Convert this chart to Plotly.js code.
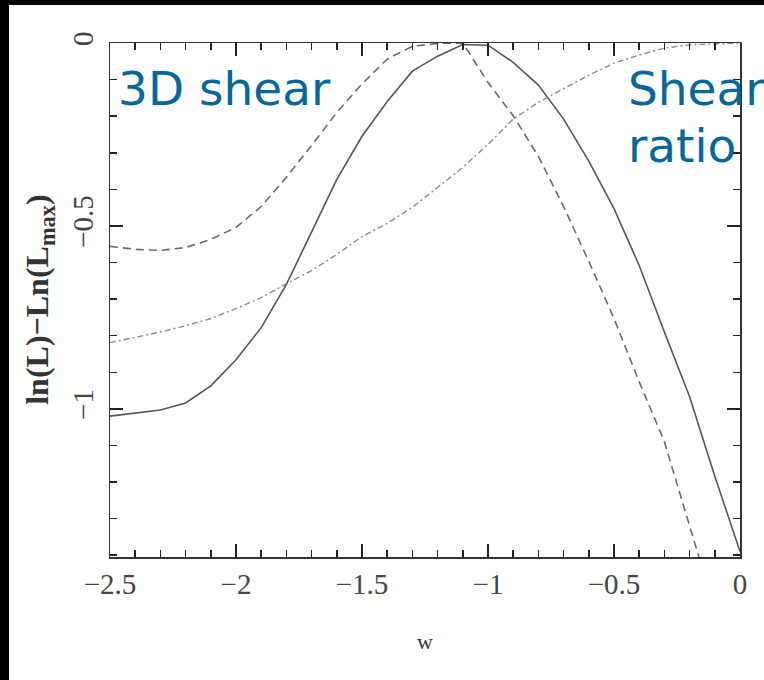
<!DOCTYPE html>
<html>
<head>
<meta charset="utf-8">
<script src="https://cdn.plot.ly/plotly-3.0.1.min.js"></script>
<style>
  html, body { margin: 0; padding: 0; background: #000; width: 764px; height: 680px; overflow: hidden; }
  #chart { position: absolute; left: 9px; top: 5px; width: 755px; height: 675px; background: #fff; }
</style>
</head>
<body>
<div id="chart"></div>
<script>
// w grid
const w = [-2.5,-2.4,-2.3,-2.2,-2.1,-2.0,-1.9,-1.8,-1.7,-1.6,-1.5,-1.4,-1.3,-1.2,-1.1,-1.0,-0.9,-0.8,-0.7,-0.6,-0.5,-0.4,-0.3,-0.2,-0.1,0.0];

// solid curve
const solidCurve = [-1.02,-1.011,-1.003,-0.984,-0.937,-0.866,-0.778,-0.66,-0.515,-0.373,-0.255,-0.16,-0.077,-0.036,-0.004,-0.006,-0.053,-0.115,-0.208,-0.323,-0.453,-0.608,-0.79,-0.967,-1.184,-1.39];

// dashed curve (last point falls below the frame and is clipped)
const dashedW = w.slice(0, 25);
const dashedCurve = [-0.556,-0.564,-0.567,-0.559,-0.537,-0.504,-0.447,-0.367,-0.28,-0.19,-0.112,-0.044,-0.009,-0.001,0.0,-0.108,-0.199,-0.31,-0.447,-0.597,-0.753,-0.926,-1.09,-1.318,-1.55];

// dash-dot curve
const dashDotCurve = [-0.819,-0.805,-0.79,-0.773,-0.753,-0.726,-0.696,-0.658,-0.622,-0.578,-0.529,-0.493,-0.449,-0.395,-0.34,-0.277,-0.208,-0.162,-0.126,-0.088,-0.055,-0.033,-0.014,-0.005,-0.002,0.0];

const xTicks = [-2.5,-2,-1.5,-1,-0.5,0];
const xTickText = ['\u22122.5','\u22122','\u22121.5','\u22121','\u22120.5','0'];
const yTicks = [0,-0.5,-1];
const yTickText = ['0','\u22120.5','\u22121'];

const traces = [
  {x: w, y: solidCurve, mode: 'lines', line: {color: '#555', width: 1.6, dash: 'solid'}, hoverinfo: 'skip'},
  {x: dashedW, y: dashedCurve, mode: 'lines', line: {color: '#6a6a6a', width: 1.6, dash: '8px,5px'}, hoverinfo: 'skip'},
  {x: w, y: dashDotCurve, mode: 'lines', line: {color: '#8a8a8a', width: 1.4, dash: '6px,3px,2px,3px'}, hoverinfo: 'skip'}
];

const tickFont = {family: 'Liberation Serif, serif', size: 29, color: '#444'};

const layout = {
  width: 755, height: 675,
  margin: {l: 101, r: 24, t: 38, b: 123, pad: 0},
  paper_bgcolor: '#fff', plot_bgcolor: '#fff',
  showlegend: false,
  xaxis: {
    range: [-2.5, 0], tickmode: 'array', tickvals: xTicks, ticktext: xTickText,
    ticks: 'inside', ticklen: 13, tickwidth: 1.5, tickcolor: '#222',
    showline: true, linecolor: '#333', linewidth: 1.5, mirror: 'ticks',
    showgrid: false, zeroline: false, tickfont: tickFont, ticklabelstandoff: 1,
    minor: {dtick: 0.1, tick0: 0, ticks: 'inside', ticklen: 7, tickwidth: 1.5, tickcolor: '#222', showgrid: false}
  },
  yaxis: {
    range: [-1.405, 0], tickmode: 'array', tickvals: yTicks, ticktext: yTickText,
    ticks: 'inside', ticklen: 13, tickwidth: 1.5, tickcolor: '#222',
    showline: true, linecolor: '#333', linewidth: 1.5, mirror: 'ticks',
    showgrid: false, zeroline: false, tickfont: tickFont, tickangle: -90, ticklabelstandoff: 4,
    minor: {dtick: 0.1, tick0: 0, ticks: 'inside', ticklen: 7, tickwidth: 1.5, tickcolor: '#222', showgrid: false}
  },
  annotations: [
    {text: 'w', xref: 'paper', yref: 'paper', x: 0.5, y: -0.165, xanchor: 'center', yanchor: 'middle',
     showarrow: false, font: {family: 'Liberation Serif, serif', size: 22, color: '#333'}},
    {text: '<b>ln(L)\u2212Ln(L<sub>max</sub>)</b>', xref: 'paper', yref: 'paper', x: -0.113, y: 0.5,
     xanchor: 'center', yanchor: 'middle', textangle: -90, showarrow: false,
     font: {family: 'Liberation Serif, serif', size: 32, color: '#333'}},
    {text: '3D shear', xref: 'paper', yref: 'paper', x: 0.01, y: 0.968, xanchor: 'left', yanchor: 'top',
     showarrow: false, font: {family: 'DejaVu Sans, sans-serif', size: 47, color: '#06689a'}},
    {text: 'Shear', xref: 'paper', yref: 'paper', x: 0.819, y: 0.968, xanchor: 'left', yanchor: 'top',
     showarrow: false, font: {family: 'DejaVu Sans, sans-serif', size: 47, color: '#06689a'}},
    {text: 'ratio', xref: 'paper', yref: 'paper', x: 0.819, y: 0.858, xanchor: 'left', yanchor: 'top',
     showarrow: false, font: {family: 'DejaVu Sans, sans-serif', size: 47, color: '#06689a'}}
  ]
};

Plotly.newPlot('chart', traces, layout, {displayModeBar: false, staticPlot: true});
</script>
</body>
</html>
